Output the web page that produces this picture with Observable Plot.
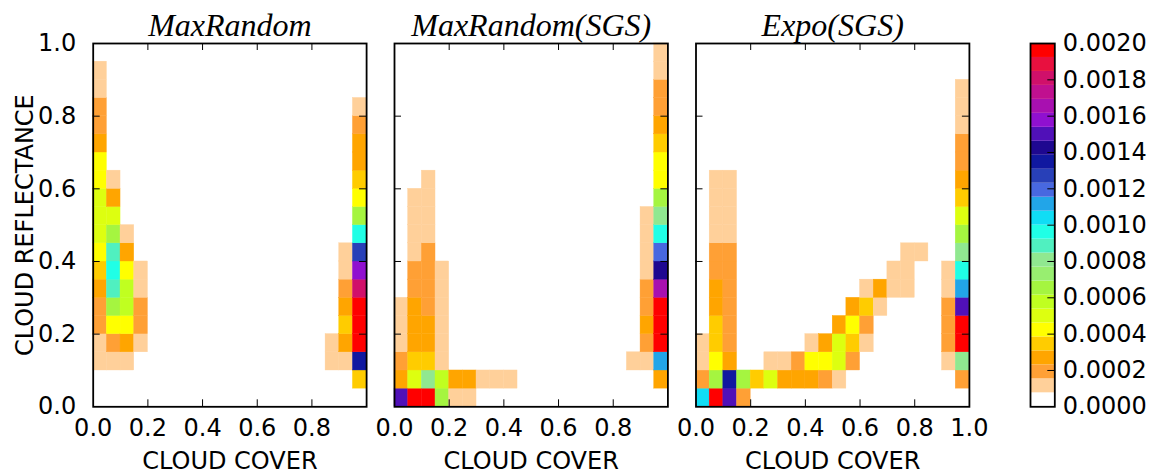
<!DOCTYPE html>
<html>
<head>
<meta charset="utf-8">
<script src="https://cdn.jsdelivr.net/npm/d3@7"></script>
<script src="https://cdn.jsdelivr.net/npm/@observablehq/plot@0.6"></script>
<style>
  body { margin: 0; background: #fff; }
  #chart { position: relative; width: 1159px; height: 473px; font-family: "DejaVu Sans", sans-serif; background: #fff; }
  #chart svg { position: absolute; top: 0; overflow: visible; }
</style>
</head>
<body>
<div id="chart"></div>
<script>
// ---------- data ----------
const panelTitles = ["MaxRandom", "MaxRandom(SGS)", "Expo(SGS)"];
const xLabel = "CLOUD COVER";
const yLabel = "CLOUD REFLECTANCE";
const xTickLabelsShort = [0.0, 0.2, 0.4, 0.6, 0.8];
const xTickLabelsFull = [0.0, 0.2, 0.4, 0.6, 0.8, 1.0];
const yTickLabels = [0.0, 0.2, 0.4, 0.6, 0.8, 1.0];
const innerTicks = [0.2, 0.4, 0.6, 0.8];
const colorbarTicks = [0, 0.0002, 0.0004, 0.0006, 0.0008, 0.0010, 0.0012, 0.0014, 0.0016, 0.0018, 0.0020];
const binWidth = 0.05;
// discrete colour levels of the colour bar, from 0 (bottom) to 0.002 (top)
const levelColors = ["#ffffff","#ffd09a","#ffa035","#ffa500","#ffcc00","#ffff00","#ddff10","#c0ff20",
  "#a5f540","#98ee70","#90e890","#50f0c0","#20ffe6","#10ddf5","#22a5e8","#4868e0","#2840b8","#1018a0",
  "#1e0890","#5010b8","#9010d0","#a810b0","#c0108f","#d0106a","#e8103f","#ff0000"];

// [cloud cover bin start, cloud reflectance bin start, relative frequency]
const maxRandom = [
  [0.00,0.10,0.00012],[0.00,0.15,0.00012],[0.00,0.20,0.00019],[0.00,0.25,0.00019],[0.00,0.30,0.00027],
  [0.00,0.35,0.00035],[0.00,0.40,0.00042],[0.00,0.45,0.00050],[0.00,0.50,0.00050],[0.00,0.55,0.00050],
  [0.00,0.60,0.00042],[0.00,0.65,0.00042],[0.00,0.70,0.00027],[0.00,0.75,0.00019],[0.00,0.80,0.00019],
  [0.00,0.85,0.00012],[0.00,0.90,0.00012],
  [0.05,0.10,0.00012],[0.05,0.15,0.00019],[0.05,0.20,0.00042],[0.05,0.25,0.00065],[0.05,0.30,0.00088],
  [0.05,0.35,0.00096],[0.05,0.40,0.00088],[0.05,0.45,0.00065],[0.05,0.50,0.00050],[0.05,0.55,0.00027],
  [0.05,0.60,0.00012],
  [0.10,0.10,0.00012],[0.10,0.15,0.00027],[0.10,0.20,0.00042],[0.10,0.25,0.00058],[0.10,0.30,0.00058],
  [0.10,0.35,0.00042],[0.10,0.40,0.00027],[0.10,0.45,0.00012],
  [0.15,0.15,0.00012],[0.15,0.20,0.00019],[0.15,0.25,0.00019],[0.15,0.30,0.00012],[0.15,0.35,0.00012],
  [0.85,0.10,0.00012],[0.85,0.15,0.00012],
  [0.90,0.10,0.00012],[0.90,0.15,0.00027],[0.90,0.20,0.00035],[0.90,0.25,0.00027],[0.90,0.30,0.00019],
  [0.90,0.35,0.00012],[0.90,0.40,0.00012],
  [0.95,0.05,0.00035],[0.95,0.10,0.00135],[0.95,0.15,0.00210],[0.95,0.20,0.00210],[0.95,0.25,0.00210],
  [0.95,0.30,0.00181],[0.95,0.35,0.00158],[0.95,0.40,0.00127],[0.95,0.45,0.00096],[0.95,0.50,0.00065],
  [0.95,0.55,0.00042],[0.95,0.60,0.00035],[0.95,0.65,0.00027],[0.95,0.70,0.00027],[0.95,0.75,0.00019],
  [0.95,0.80,0.00012]
];

const maxRandomSGS = [
  [0.00,0.00,0.00150],[0.00,0.05,0.00027],[0.00,0.10,0.00019],[0.00,0.15,0.00012],[0.00,0.20,0.00012],
  [0.00,0.25,0.00012],
  [0.05,0.00,0.00210],[0.05,0.05,0.00050],[0.05,0.10,0.00035],[0.05,0.15,0.00027],[0.05,0.20,0.00027],
  [0.05,0.25,0.00027],[0.05,0.30,0.00019],[0.05,0.35,0.00019],[0.05,0.40,0.00012],[0.05,0.45,0.00012],
  [0.05,0.50,0.00012],[0.05,0.55,0.00012],
  [0.10,0.00,0.00210],[0.10,0.05,0.00081],[0.10,0.10,0.00035],[0.10,0.15,0.00027],[0.10,0.20,0.00027],
  [0.10,0.25,0.00019],[0.10,0.30,0.00019],[0.10,0.35,0.00019],[0.10,0.40,0.00019],[0.10,0.45,0.00012],
  [0.10,0.50,0.00012],[0.10,0.55,0.00012],[0.10,0.60,0.00012],
  [0.15,0.00,0.00065],[0.15,0.05,0.00058],[0.15,0.10,0.00012],[0.15,0.15,0.00012],[0.15,0.20,0.00012],
  [0.15,0.25,0.00012],[0.15,0.30,0.00012],[0.15,0.35,0.00012],
  [0.20,0.00,0.00012],[0.20,0.05,0.00027],
  [0.25,0.00,0.00012],[0.25,0.05,0.00027],
  [0.30,0.05,0.00012],[0.35,0.05,0.00012],[0.40,0.05,0.00012],
  [0.85,0.10,0.00012],
  [0.90,0.10,0.00012],[0.90,0.15,0.00019],[0.90,0.20,0.00027],[0.90,0.25,0.00019],[0.90,0.30,0.00019],
  [0.90,0.35,0.00012],[0.90,0.40,0.00012],[0.90,0.45,0.00012],[0.90,0.50,0.00012],
  [0.95,0.05,0.00027],[0.95,0.10,0.00112],[0.95,0.15,0.00210],[0.95,0.20,0.00210],[0.95,0.25,0.00210],
  [0.95,0.30,0.00165],[0.95,0.35,0.00142],[0.95,0.40,0.00119],[0.95,0.45,0.00096],[0.95,0.50,0.00081],
  [0.95,0.55,0.00065],[0.95,0.60,0.00042],[0.95,0.65,0.00042],[0.95,0.70,0.00035],[0.95,0.75,0.00027],
  [0.95,0.80,0.00019],[0.95,0.85,0.00019],[0.95,0.90,0.00012],[0.95,0.95,0.00012]
];

const expoSGS = [
  [0.00,0.00,0.00104],[0.00,0.05,0.00019],[0.00,0.10,0.00012],[0.00,0.15,0.00012],
  [0.05,0.00,0.00210],[0.05,0.05,0.00065],[0.05,0.10,0.00042],[0.05,0.15,0.00035],[0.05,0.20,0.00035],
  [0.05,0.25,0.00027],[0.05,0.30,0.00027],[0.05,0.35,0.00019],[0.05,0.40,0.00019],[0.05,0.45,0.00012],
  [0.05,0.50,0.00012],[0.05,0.55,0.00012],[0.05,0.60,0.00012],
  [0.10,0.00,0.00150],[0.10,0.05,0.00135],[0.10,0.10,0.00027],[0.10,0.15,0.00019],[0.10,0.20,0.00019],
  [0.10,0.25,0.00019],[0.10,0.30,0.00019],[0.10,0.35,0.00019],[0.10,0.40,0.00019],[0.10,0.45,0.00012],
  [0.10,0.50,0.00012],[0.10,0.55,0.00012],[0.10,0.60,0.00012],
  [0.15,0.00,0.00019],[0.15,0.05,0.00065],
  [0.20,0.05,0.00035],
  [0.25,0.05,0.00050],[0.25,0.10,0.00012],
  [0.30,0.05,0.00027],[0.30,0.10,0.00012],
  [0.35,0.05,0.00027],[0.35,0.10,0.00019],
  [0.40,0.05,0.00027],[0.40,0.10,0.00042],[0.40,0.15,0.00012],
  [0.45,0.05,0.00019],[0.45,0.10,0.00042],[0.45,0.15,0.00027],
  [0.50,0.05,0.00012],[0.50,0.10,0.00050],[0.50,0.15,0.00050],[0.50,0.20,0.00027],
  [0.55,0.10,0.00019],[0.55,0.15,0.00035],[0.55,0.20,0.00042],[0.55,0.25,0.00027],
  [0.60,0.15,0.00012],[0.60,0.20,0.00019],[0.60,0.25,0.00035],[0.60,0.30,0.00012],
  [0.65,0.25,0.00012],[0.65,0.30,0.00027],
  [0.70,0.30,0.00012],[0.70,0.35,0.00012],
  [0.75,0.30,0.00012],[0.75,0.35,0.00012],[0.75,0.40,0.00012],
  [0.80,0.40,0.00012],
  [0.90,0.10,0.00012],[0.90,0.15,0.00019],[0.90,0.20,0.00019],[0.90,0.25,0.00019],[0.90,0.30,0.00012],
  [0.90,0.35,0.00012],
  [0.95,0.05,0.00019],[0.95,0.10,0.00081],[0.95,0.15,0.00210],[0.95,0.20,0.00210],[0.95,0.25,0.00150],
  [0.95,0.30,0.00112],[0.95,0.35,0.00096],[0.95,0.40,0.00081],[0.95,0.45,0.00065],[0.95,0.50,0.00050],
  [0.95,0.55,0.00035],[0.95,0.60,0.00027],[0.95,0.65,0.00019],[0.95,0.70,0.00019],[0.95,0.75,0.00012],
  [0.95,0.80,0.00012],[0.95,0.85,0.00012]
];

// ---------- layout ----------
const H = 473, MT = 43, MB = 66.7, FW = 273.4;
const innerH = H - MT - MB;
const step = 0.002 / levelColors.length;
const thresholds = d3.range(1, levelColors.length).map(k => k * step);
const colorScale = {type: "threshold", domain: thresholds, range: levelColors};
const FS = 24;
const svgStyle = {background: "transparent", overflow: "visible", fontFamily: "DejaVu Sans, sans-serif"};

function panel({cells, title, left, marginLeft, marginRight, xTicks, showY}) {
  const marks = [
    Plot.rect(cells, {x1: d => d[0], x2: d => d[0] + binWidth, y1: d => d[1], y2: d => d[1] + binWidth,
      fill: d => d[2], stroke: d => d[2], strokeWidth: 0.4}),
    Plot.tickX(innerTicks, {x: d => d, insetTop: innerH - 7, stroke: "#000", strokeWidth: 1}),
    Plot.tickX(innerTicks, {x: d => d, insetBottom: innerH - 7, stroke: "#000", strokeWidth: 1}),
    Plot.tickY(innerTicks, {y: d => d, insetRight: FW - 7, stroke: "#000", strokeWidth: 1}),
    Plot.tickY(innerTicks, {y: d => d, insetLeft: FW - 7, stroke: "#000", strokeWidth: 1}),
    Plot.frame({stroke: "#000", strokeWidth: 1.8}),
    Plot.axisX({ticks: xTicks, tickSize: 0, tickPadding: 12, tickFormat: ".1f", fontSize: FS, label: null, fill: "#000"}),
    Plot.text([title], {text: d => d, frameAnchor: "top", dy: -8, lineAnchor: "bottom", textAnchor: "middle",
      fontFamily: "Liberation Serif, serif", fontStyle: "italic", fontSize: 32, letterSpacing: 1.2, fill: "#000"}),
    Plot.text([xLabel], {text: d => d, frameAnchor: "bottom", dy: 45, lineAnchor: "top", textAnchor: "middle", fontSize: FS, fill: "#000"})
  ];
  if (showY) {
    marks.push(
      Plot.axisY({ticks: yTickLabels, tickSize: 0, tickPadding: 17, tickFormat: ".1f", fontSize: FS, label: null, fill: "#000"}),
      Plot.text([yLabel], {text: d => d, frameAnchor: "left", dx: -68, rotate: -90, textAnchor: "middle", lineAnchor: "middle", fontSize: FS, fill: "#000"})
    );
  }
  const svg = Plot.plot({
    width: marginLeft + FW + marginRight, height: H,
    marginLeft, marginRight, marginTop: MT, marginBottom: MB,
    x: {domain: [0, 1], axis: null},
    y: {domain: [0, 1], axis: null},
    color: colorScale,
    style: svgStyle,
    marks
  });
  svg.style.left = left + "px";
  return svg;
}

const chart = document.getElementById("chart");
chart.append(
  panel({cells: maxRandom, title: panelTitles[0], left: 0, marginLeft: 92.7, marginRight: 13.9, xTicks: xTickLabelsShort, showY: true}),
  panel({cells: maxRandomSGS, title: panelTitles[1], left: 380, marginLeft: 14, marginRight: 13.6, xTicks: xTickLabelsShort, showY: false}),
  panel({cells: expoSGS, title: panelTitles[2], left: 681, marginLeft: 14.5, marginRight: 21.1, xTicks: xTickLabelsFull, showY: false})
);

// colour bar
const CW = 24.3;
const bands = levelColors.map((c, k) => ({lo: k * step, hi: (k + 1) * step}));
const cbar = Plot.plot({
  width: 40 + CW + 104.7, height: H,
  marginLeft: 40, marginRight: 104.7, marginTop: MT, marginBottom: MB,
  y: {domain: [0, 0.002], axis: null},
  color: colorScale,
  style: svgStyle,
  marks: [
    Plot.rect(bands, {y1: "lo", y2: "hi", fill: d => (d.lo + d.hi) / 2}),
    Plot.tickY(colorbarTicks.slice(1, -1), {y: d => d, insetLeft: CW - 7, stroke: "#000", strokeWidth: 1}),
    Plot.frame({stroke: "#000", strokeWidth: 1.8}),
    Plot.axisY({anchor: "right", ticks: colorbarTicks, tickSize: 0, tickPadding: 8, tickFormat: ".4f", fontSize: FS, label: null, fill: "#000"})
  ]
});
cbar.style.left = "990px";
chart.append(cbar);
</script>
</body>
</html>
